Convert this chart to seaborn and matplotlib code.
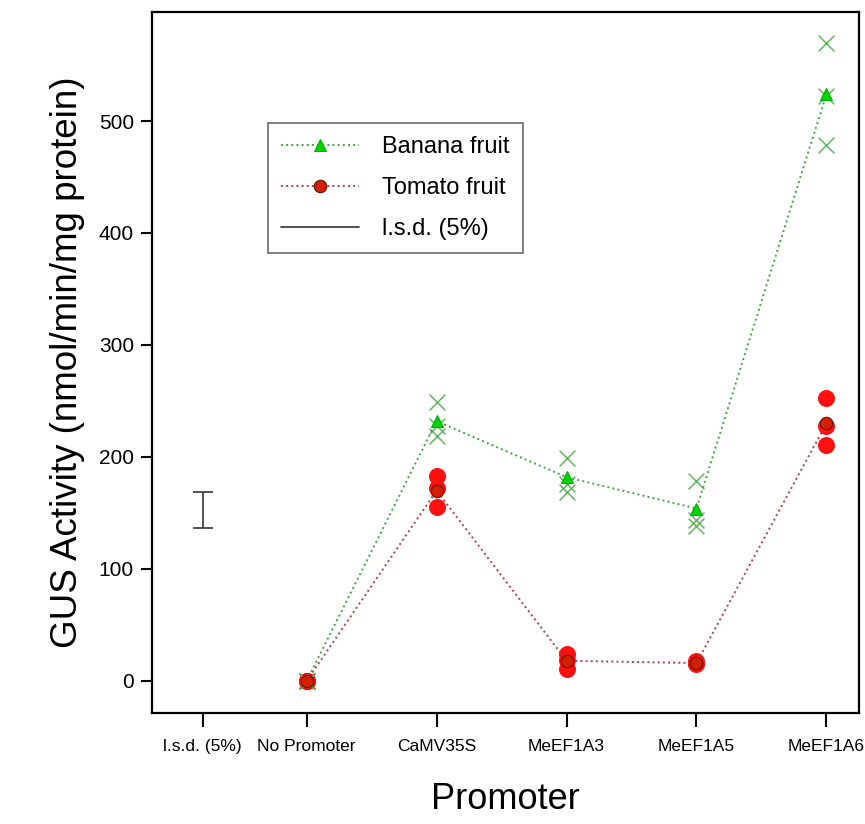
import numpy as np
import pandas as pd
import matplotlib
matplotlib.use("Agg")
import matplotlib.pyplot as plt
import seaborn as sns
from matplotlib.lines import Line2D

# ---- data ----
promoters = ["No Promoter", "CaMV35S", "MeEF1A3", "MeEF1A5", "MeEF1A6"]
promoter_pos = [0, 1, 2, 3, 4]
tick_labels = ["l.s.d. (5%)"] + promoters
tick_pos = [-0.8] + promoter_pos

# replicate measurements (3 per promoter)
banana_reps = [[0, 0, 0], [249, 228, 219], [199, 176, 169],
               [179, 144, 138], [570, 522, 479]]
tomato_reps = [[0, 0, 0], [183, 172, 155], [24, 19, 11],
               [18, 16, 15], [253, 228, 211]]
banana_mean = [0, 232, 182, 154, 524]
tomato_mean = [0, 170, 18, 16, 230]

lsd_pos = -0.8
lsd_center = 153
lsd_half = 16

# ---- build tables ----
rep_rows = []
for i, p in enumerate(promoter_pos):
    for v in banana_reps[i]:
        rep_rows.append({"x": p, "y": v, "fruit": "Banana"})
    for v in tomato_reps[i]:
        rep_rows.append({"x": p, "y": v, "fruit": "Tomato"})
reps = pd.DataFrame(rep_rows)
means_banana = pd.DataFrame({"x": promoter_pos, "y": banana_mean})
means_tomato = pd.DataFrame({"x": promoter_pos, "y": tomato_mean})

# ---- plot ----
sns.set_style("white")
plt.rcParams["font.family"] = ["Liberation Sans", "DejaVu Sans"]
plt.rcParams["text.color"] = "black"
plt.rcParams["axes.labelcolor"] = "black"
plt.rcParams["xtick.color"] = "black"
plt.rcParams["ytick.color"] = "black"

fig = plt.figure(figsize=(8.65, 8.24), dpi=100)
ax = fig.add_axes([0.1757, 0.1347, 0.8173, 0.8507])

# replicates
sns.scatterplot(data=reps[reps.fruit == "Tomato"], x="x", y="y", ax=ax,
                color="#ff1010", marker="o", s=150, linewidth=0, legend=False, zorder=2)
sns.scatterplot(data=reps[reps.fruit == "Banana"], x="x", y="y", ax=ax,
                color="#4aa84a", marker="x", s=130, linewidth=1.1, alpha=0.85,
                legend=False, zorder=2)

# means
sns.lineplot(data=means_banana, x="x", y="y", ax=ax, color="#3aa83a",
             linestyle=":", linewidth=1.4, marker="^", markersize=9,
             markerfacecolor="#00d400", markeredgecolor="#00b000",
             label="Banana fruit", zorder=4)
sns.lineplot(data=means_tomato, x="x", y="y", ax=ax, color="#b04048",
             linestyle=":", linewidth=1.4, marker="o", markersize=9,
             markerfacecolor="#d42000", markeredgecolor="#5a1000",
             label="Tomato fruit", zorder=4)

# l.s.d. bar
ax.errorbar([lsd_pos], [lsd_center], yerr=[lsd_half], fmt="none",
            ecolor="#444444", elinewidth=1.3, capsize=7, capthick=1.3,
            label="l.s.d. (5%)", zorder=3)

ax.set_xlim(-1.19, 4.25)
ax.set_ylim(-28.6, 597.3)
ax.set_xticks(tick_pos)
ax.set_xticklabels(tick_labels, fontsize=12.5,
                   family=["Liberation Sans Narrow", "Liberation Sans"])
ax.set_yticks([0, 100, 200, 300, 400, 500])
ax.tick_params(axis="y", labelsize=15, length=8, width=1.5, direction="out",
               left=True, pad=5)
ax.tick_params(axis="x", length=10, width=1.5, direction="out",
               bottom=True, pad=9)

for sp in ax.spines.values():
    sp.set_color("black")
    sp.set_linewidth(1.6)

ax.set_xlabel("Promoter", fontsize=26, labelpad=20)
ax.set_ylabel("GUS Activity (nmol/min/mg protein)", fontsize=26.5, labelpad=10)

# legend with line handle for l.s.d.
handles, labels = ax.get_legend_handles_labels()
hmap = dict(zip(labels, handles))
lsd_handle = Line2D([], [], color="#333333", linewidth=1.2)
leg = ax.legend([hmap["Banana fruit"], hmap["Tomato fruit"], lsd_handle],
                ["Banana fruit", "Tomato fruit", "l.s.d. (5%)"],
                loc="upper left", bbox_to_anchor=(0.164, 0.841),
                fontsize=17, frameon=True, fancybox=False, edgecolor="#444444",
                handlelength=3.3, borderpad=0.55, labelspacing=0.8,
                handletextpad=1.0, borderaxespad=0)
leg.get_frame().set_linewidth(1.2)

fig.savefig("out.png", dpi=100)
